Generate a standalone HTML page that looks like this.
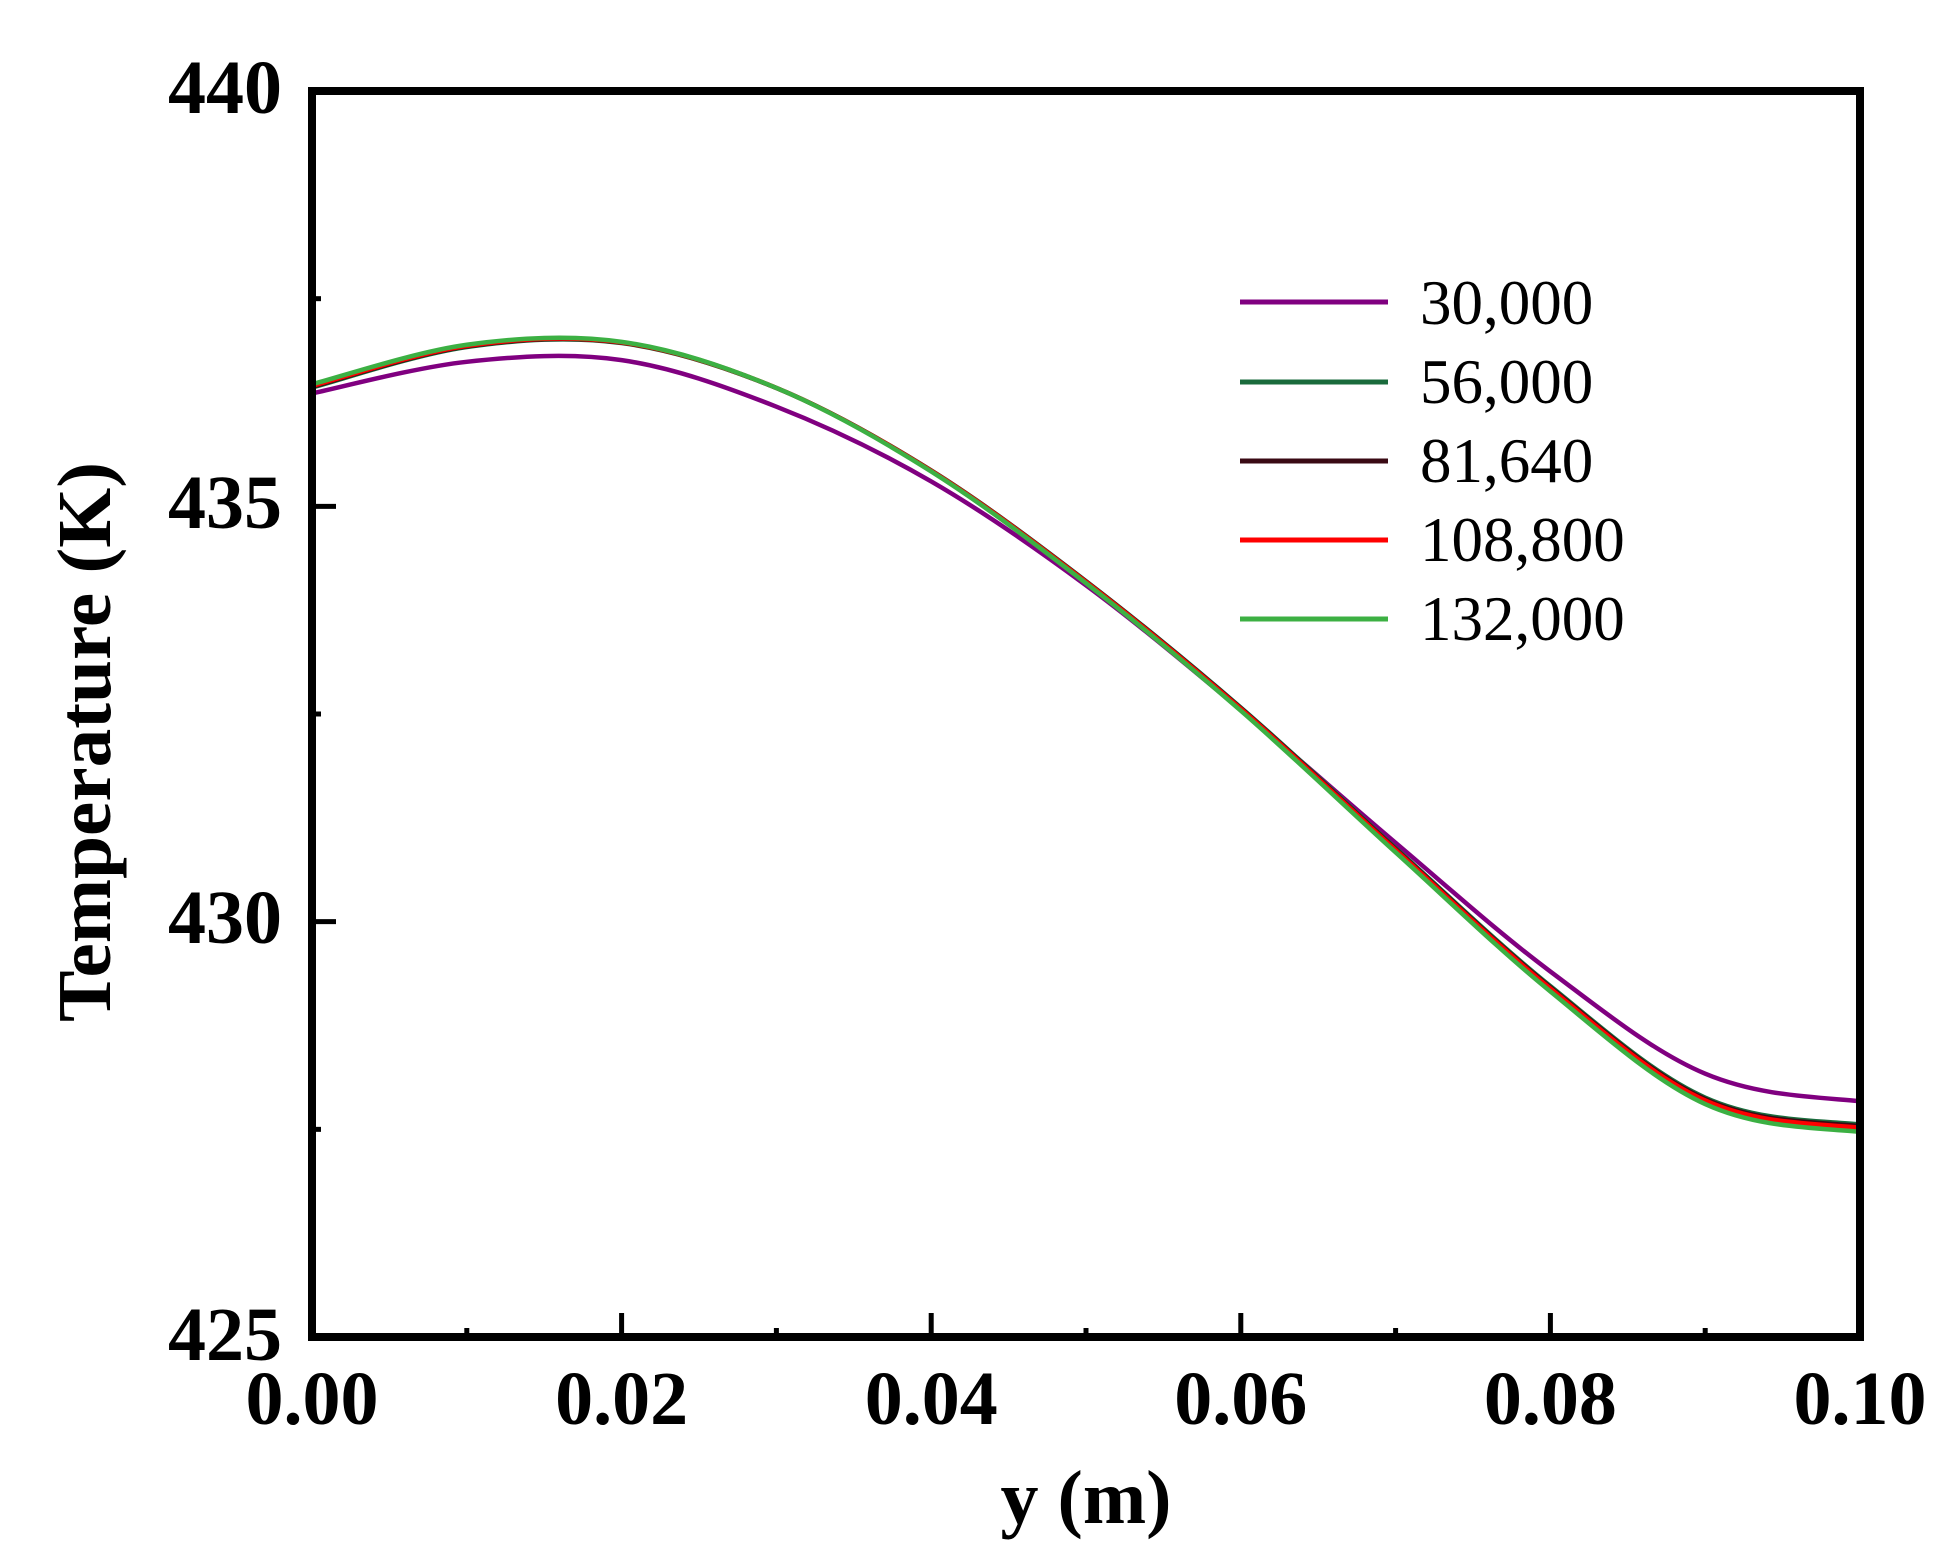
<!DOCTYPE html>
<html><head><meta charset="utf-8"><style>
html,body{margin:0;padding:0;background:#fff;}
svg{display:block;}
</style></head><body>
<svg id="s" width="1960" height="1555" xmlns="http://www.w3.org/2000/svg" font-family="Liberation Serif, serif">
<g id="curves" fill="none" stroke-width="4.5" stroke-linejoin="round"></g>
<rect x="312" y="91" width="1548" height="1246" fill="none" stroke="#000" stroke-width="8"/>
<g id="ticks" stroke="#000" stroke-width="5"></g>
<g font-weight="bold" font-size="76" fill="#000">
<text x="282" y="113" text-anchor="end">440</text>
<text x="282" y="528" text-anchor="end">435</text>
<text x="282" y="943" text-anchor="end">430</text>
<text x="282" y="1360" text-anchor="end">425</text>
<text x="312" y="1424" text-anchor="middle">0.00</text>
<text x="621.6" y="1424" text-anchor="middle">0.02</text>
<text x="931.2" y="1424" text-anchor="middle">0.04</text>
<text x="1240.8" y="1424" text-anchor="middle">0.06</text>
<text x="1550.4" y="1424" text-anchor="middle">0.08</text>
<text x="1860" y="1424" text-anchor="middle">0.10</text>
<text x="1086" y="1523" text-anchor="middle">y (m)</text>
<text transform="translate(110,742) rotate(-90)" text-anchor="middle" textLength="560" lengthAdjust="spacingAndGlyphs">Temperature (K)</text>
</g>
<g stroke-width="5">
<line x1="1240" y1="302" x2="1388" y2="302" stroke="#800080"/>
<line x1="1240" y1="382" x2="1388" y2="382" stroke="#1a6b3c"/>
<line x1="1240" y1="461" x2="1388" y2="461" stroke="#3a0a14"/>
<line x1="1240" y1="540" x2="1388" y2="540" stroke="#ff0000"/>
<line x1="1240" y1="619" x2="1388" y2="619" stroke="#3cb043"/>
</g>
<g font-size="63" fill="#000">
<text x="1420" y="324">30,000</text>
<text x="1420" y="403">56,000</text>
<text x="1420" y="482">81,640</text>
<text x="1420" y="561">108,800</text>
<text x="1420" y="640">132,000</text>
</g>
</svg>
<script>
(function(){
var X=function(v){return 312+v/0.1*1548;};
var Y=function(t){return 91+(440-t)*83.07;};
var xs=[0,0.01,0.02,0.03,0.04,0.05,0.06,0.07,0.08,0.09,0.1];
var purple=[436.36,436.74,436.76,436.20,435.30,434.05,432.55,430.95,429.40,428.17,427.84];
var base=[436.45,436.93,436.97,436.42,435.42,434.08,432.55,430.85,429.18,427.83,427.50];
var ns='http://www.w3.org/2000/svg';
var g=document.getElementById('curves');
function path(vals){
  var p=xs.map(function(x,i){return [X(x),Y(vals[i])];});
  var n=p.length;
  var d='M'+p[0][0]+','+p[0][1];
  for(var i=0;i<n-1;i++){
    var p0=p[i-1]||p[i],p1=p[i],p2=p[i+1];
    var p3=p[i+2]||[2*p[i+1][0]-p[i][0],p[i+1][1]];
    var c1=[p1[0]+(p2[0]-p0[0])/6,p1[1]+(p2[1]-p0[1])/6];
    var c2=[p2[0]-(p3[0]-p1[0])/6,p2[1]-(p3[1]-p1[1])/6];
    d+=' C'+c1[0]+','+c1[1]+' '+c2[0]+','+c2[1]+' '+p2[0]+','+p2[1];
  }
  return d;
}
function add(vals,color){
  var e=document.createElementNS(ns,'path');
  e.setAttribute('d',path(vals));e.setAttribute('stroke',color);g.appendChild(e);
}
function off(a,b){return base.map(function(v,i){var f=xs[i]/0.1;return v+a*(1-f)+b*f;});}
add(purple,'#800080');
add(off(-0.02,0.06),'#1a6b3c');
add(off(-0.01,0.04),'#3a0a14');
add(off(0,0.02),'#ff0000');
add(off(0.02,-0.03),'#3cb043');
var t=document.getElementById('ticks');
function ln(x1,y1,x2,y2){var e=document.createElementNS(ns,'line');e.setAttribute('x1',x1);e.setAttribute('y1',y1);e.setAttribute('x2',x2);e.setAttribute('y2',y2);t.appendChild(e);}
for(var i=1;i<10;i++){var x=312+i*154.8;ln(x,1337,x,1337-(i%2?9:24));}
for(var j=1;j<6;j++){var y=91+j*207.67;ln(312,y,312+(j%2?9:24),y);}
})();
</script>
</body></html>
